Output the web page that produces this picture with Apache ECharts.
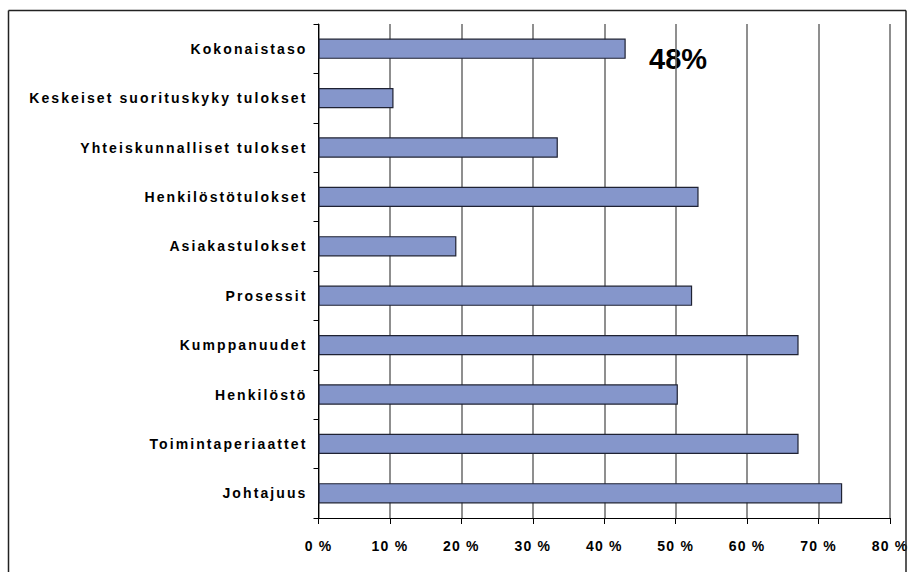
<!DOCTYPE html>
<html>
<head>
<meta charset="utf-8">
<script src="https://cdn.jsdelivr.net/npm/echarts@6/dist/echarts.min.js"></script>
<style>
html,body{margin:0;padding:0;background:#fff;overflow:hidden;}
#c{width:909px;height:572px;}
#c text[text-anchor="end"]{letter-spacing:2.1px;}
#c text[text-anchor="middle"]{letter-spacing:1.2px;}
</style>
</head>
<body>
<div id="c"></div>
<script>
// Categories listed bottom to top
const categories = ['Johtajuus','Toimintaperiaattet','Henkilöstö','Kumppanuudet','Prosessit','Asiakastulokset','Henkilöstötulokset','Yhteiskunnalliset tulokset','Keskeiset suorituskyky tulokset','Kokonaistaso'];
const values = [73.3, 67.2, 50.3, 67.2, 52.3, 19.3, 53.2, 33.5, 10.5, 43.0];
const annotation = '48%';

const chart = echarts.init(document.getElementById('c'), null, {renderer: 'svg'});
const frameStyle = {stroke: '#222', lineWidth: 1.5};
chart.setOption({
  animation: false,
  backgroundColor: '#fff',
  grid: {left: 318.5, right: 18.5, top: 24, bottom: 54, containLabel: false},
  xAxis: {
    type: 'value', min: 0, max: 80, interval: 10,
    axisLine: {show: true, lineStyle: {color: '#000', width: 1}},
    axisTick: {show: true, length: 6, lineStyle: {color: '#000'}},
    splitLine: {show: true, lineStyle: {color: '#6a6a6a', width: 1.5}},
    axisLabel: {formatter: '{value} %', color: '#000', fontFamily: '"Liberation Sans", Arial, sans-serif', fontWeight: 'bold', fontSize: 14, margin: 21}
  },
  yAxis: {
    type: 'category', data: categories,
    axisLine: {show: true, lineStyle: {color: '#000', width: 1}},
    axisTick: {show: true, length: 5, lineStyle: {color: '#000'}},
    axisLabel: {color: '#000', fontFamily: '"Liberation Sans", Arial, sans-serif', fontWeight: 'bold', fontSize: 14, margin: 11}
  },
  series: [{
    type: 'bar', data: values, barWidth: '41%',
    itemStyle: {color: '#8596CB', borderColor: '#1f2233', borderWidth: 1.2}
  }],
  graphic: [
    {type: 'line', silent: true, z: 100, shape: {x1: 8.5, y1: 10.5, x2: 906, y2: 10.5}, style: frameStyle},
    {type: 'line', silent: true, z: 100, shape: {x1: 8.5, y1: 10.5, x2: 8.5, y2: 572}, style: frameStyle},
    {type: 'line', silent: true, z: 100, shape: {x1: 906, y1: 10.5, x2: 906, y2: 572}, style: frameStyle},
    {type: 'text', left: 649, top: 44, style: {text: annotation, fill: '#000', font: 'bold 29px "Liberation Sans", Arial, sans-serif'}}
  ]
});
</script>
</body>
</html>
